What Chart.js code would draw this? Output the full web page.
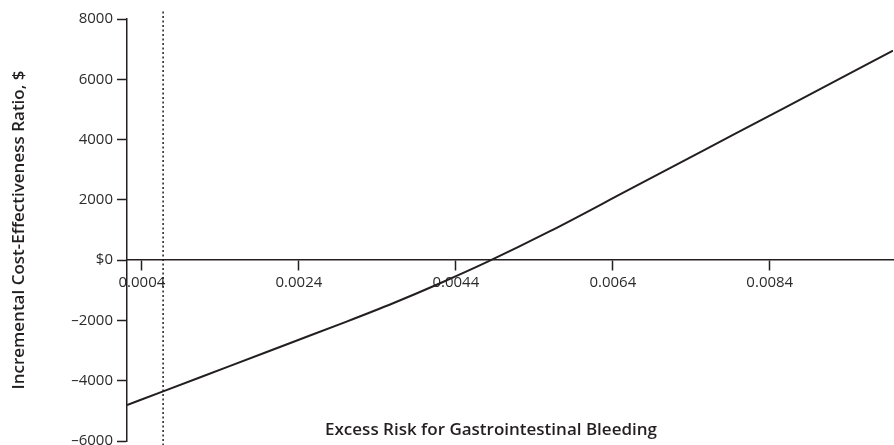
<!DOCTYPE html>
<html>
<head>
  <meta charset="UTF-8">
  <title>Incremental Cost-Effectiveness Ratio</title>
  <script src="https://cdn.jsdelivr.net/npm/chart.js"></script>
  <style>
    html, body { margin: 0; padding: 0; background: #fff; }
    #wrap { width: 894px; height: 445px; }
  </style>
</head>
<body>
<div id="wrap"><canvas id="icerChart"></canvas></div>
<script>
  // excess risk for GI bleeding (x) and ICER in $ (y)
  const riskValues = [0.00021, 0.00067, 0.0015, 0.0023, 0.0030, 0.0036, 0.0042, 0.0048, 0.0056, 0.0066, 0.0076, 0.0086, 0.00997];
  const icerValues = [-4808, -4353, -3531, -2739, -2046, -1429, -766, -60, 960, 2330, 3700, 5070, 6948];

  // dotted reference line at the baseline risk
  const baselineRisk = 0.00067;
  const baselineSpan = [-6150, 8250];

  const xTickValues = [0.0004, 0.0024, 0.0044, 0.0064, 0.0084];
  const yTickValues = [8000, 6000, 4000, 2000, 0, -2000, -4000, -6000];

  const xMin = 0.00021, xMax = 0.00997;
  const xTitle = 'Excess Risk for Gastrointestinal Bleeding';
  const yTitle = 'Incremental Cost-Effectiveness Ratio, $';

  const ink = '#231f20';
  const font = "'Open Sans', 'Noto Sans', sans-serif";

  // x-axis title sits at the bottom of the plot area
  const bottomTitle = {
    id: 'bottomTitle',
    afterDraw(chart) {
      const ctx = chart.ctx;
      ctx.save();
      ctx.font = "600 17px " + font;
      ctx.fillStyle = ink;
      ctx.textAlign = 'center';
      ctx.textBaseline = 'middle';
      ctx.fillText(xTitle, 491, 430);
      ctx.restore();
    }
  };

  new Chart(document.getElementById('icerChart'), {
    type: 'line',
    data: {
      datasets: [
        {
          data: riskValues.map((x, i) => ({ x: x, y: icerValues[i] })),
          borderColor: ink,
          borderWidth: 2,
          pointRadius: 0,
          cubicInterpolationMode: 'monotone',
          fill: false
        },
        {
          data: baselineSpan.map(y => ({ x: baselineRisk, y: y })),
          borderColor: ink,
          borderWidth: 1.5,
          borderDash: [2, 2.5],
          pointRadius: 0,
          clip: false,
          fill: false
        }
      ]
    },
    options: {
      responsive: true,
      maintainAspectRatio: false,
      animation: false,
      layout: { padding: { top: 19, right: 1, bottom: 4, left: 0 } },
      plugins: {
        legend: { display: false },
        tooltip: { enabled: false }
      },
      scales: {
        x: {
          type: 'linear',
          position: { y: 0 },
          min: xMin,
          max: xMax,
          afterBuildTicks: axis => { axis.ticks = xTickValues.map(v => ({ value: v })); },
          border: { color: ink, width: 1.5 },
          grid: { drawOnChartArea: false, tickLength: 10, color: ink, tickWidth: 1.5 },
          ticks: {
            color: '#2b2b2b',
            font: { family: font, size: 15 },
            padding: 4,
            maxRotation: 0,
            callback: v => v.toFixed(4)
          }
        },
        y: {
          min: -6000,
          max: 8000,
          afterBuildTicks: axis => { axis.ticks = yTickValues.map(v => ({ value: v })); },
          afterFit: scale => {
            scale.width = 127;
            scale.paddingTop = 0;
            scale.paddingBottom = 0;
          },
          border: { color: ink, width: 1.5 },
          grid: { drawOnChartArea: false, tickLength: 10, color: ink, tickWidth: 1.5 },
          ticks: {
            color: '#2b2b2b',
            font: { family: font, size: 15 },
            padding: 4,
            callback: v => v === 0 ? '$0' : (v < 0 ? '\u2013' + Math.abs(v) : String(v))
          },
          title: {
            display: true,
            text: yTitle,
            color: ink,
            font: { family: font, size: 17, weight: '600' },
            padding: { top: 9, bottom: 0 }
          }
        }
      }
    },
    plugins: [bottomTitle]
  });
</script>
</body>
</html>
